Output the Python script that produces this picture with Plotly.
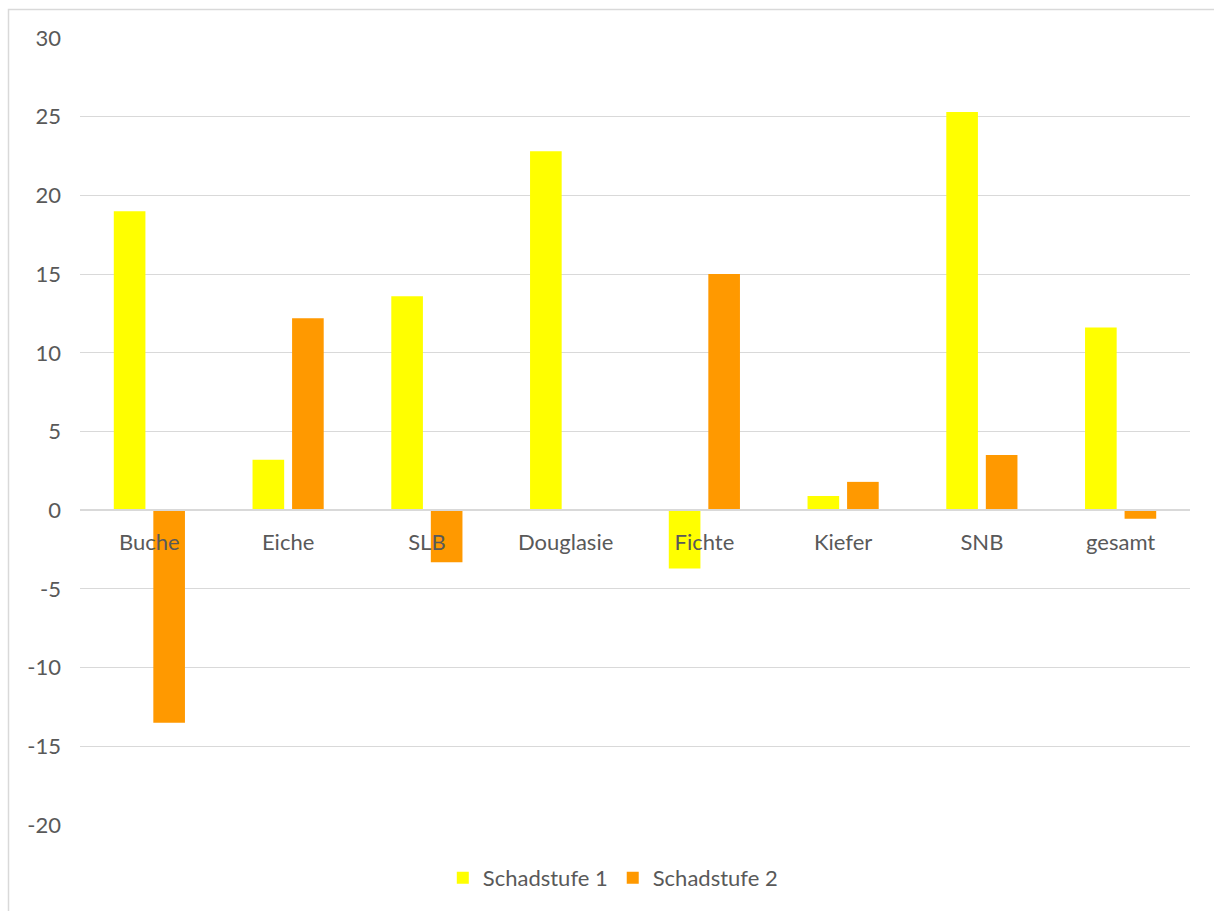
import plotly.graph_objects as go

categories = ["Buche", "Eiche", "SLB", "Douglasie", "Fichte", "Kiefer", "SNB", "gesamt"]
schadstufe1 = [19.0, 3.2, 13.6, 22.8, -3.7, 0.9, 25.3, 11.6]
schadstufe2 = [-13.5, 12.2, -3.3, 0.0, 15.0, 1.8, 3.5, -0.55]
series_names = ["Schadstufe 1", "Schadstufe 2"]
y_ticks = [30, 25, 20, 15, 10, 5, 0, -5, -10, -15, -20]
y_ticktext = [str(v) for v in y_ticks]

FONT = "Lato"
TXT = "#595959"
GRID = "#d9d9d9"

fig = go.Figure()
fig.add_trace(go.Bar(x=categories, y=schadstufe1, name=series_names[0], marker_color="#ffff00", marker_line_width=0))
fig.add_trace(go.Bar(x=categories, y=schadstufe2, name=series_names[1], marker_color="#ff9900", marker_line_width=0))

W, H = 1214, 911
L, R, T, B = 80, 24, 38, 86
pw, ph = W - L - R, H - T - B

def px2paper_x(px):
    return (px - L) / pw

def px2paper_y(py):
    return (H - B - py) / ph

fig.update_layout(
    width=W, height=H,
    margin=dict(l=L, r=R, t=T, b=B),
    paper_bgcolor="white", plot_bgcolor="white",
    barmode="group", bargap=0.43, bargroupgap=0.2,
    font=dict(family=FONT, size=22, color=TXT),
    showlegend=True,
    legend=dict(orientation="h", x=0.48, xanchor="center", y=px2paper_y(878), yanchor="middle",
                font=dict(family=FONT, size=22, color=TXT), itemsizing="constant", itemwidth=30),
    xaxis=dict(type="category", anchor="free", position=0.4, showline=True, linecolor=GRID,
               linewidth=1.5, showgrid=False, ticks="", tickfont=dict(family=FONT, size=22, color=TXT),
               ticklabelstandoff=13),
    yaxis=dict(range=[-20, 30], tickvals=y_ticks, ticktext=y_ticktext, showgrid=True, gridcolor=GRID,
               gridwidth=1.3, zeroline=False, showline=False, ticks="",
               tickfont=dict(family=FONT, size=22, color=TXT), ticklabelstandoff=18),
)

fig.add_shape(type="rect", xref="paper", yref="paper",
              x0=px2paper_x(8.5), x1=px2paper_x(1230), y0=px2paper_y(930), y1=px2paper_y(9.5),
              line=dict(color=GRID, width=1.5), fillcolor="rgba(0,0,0,0)", layer="below")

fig.write_html("out.html")
